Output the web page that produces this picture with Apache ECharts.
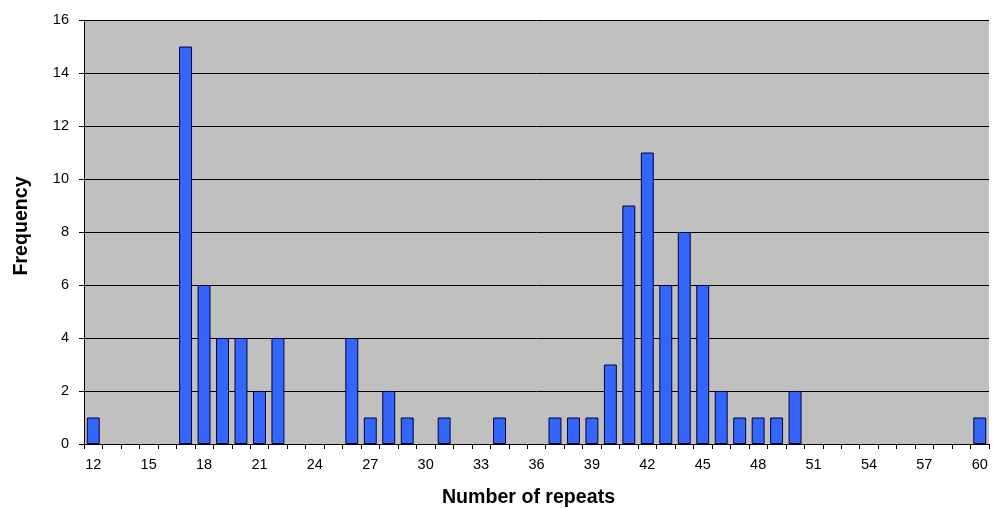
<!DOCTYPE html>
<html>
<head>
<meta charset="utf-8">
<script src="https://cdn.jsdelivr.net/npm/echarts@6/dist/echarts.min.js"></script>
<style>html,body{margin:0;padding:0;background:#fff;}#c{width:993px;height:508px;}</style>
</head>
<body>
<div id="c"></div>
<script>
var categories = ['12','13','14','15','16','17','18','19','20','21','22','23','24','25','26','27','28','29','30','31','32','33','34','35','36','37','38','39','40','41','42','43','44','45','46','47','48','49','50','51','52','53','54','55','56','57','58','59','60'];
var frequency = [1,0,0,0,0,15,6,4,4,2,4,0,0,0,4,1,2,1,0,1,0,0,1,0,0,1,1,1,3,9,11,6,8,6,2,1,1,1,2,0,0,0,0,0,0,0,0,0,1];
var yTicks = {min: 0, max: 16, interval: 2};

var barData = frequency.map(function (v) {
  return v === 0 ? {value: v, itemStyle: {borderWidth: 0, opacity: 0}} : {value: v};
});

var chart = echarts.init(document.getElementById('c'), null, {renderer: 'canvas'});
chart.setOption({
  animation: false,
  backgroundColor: '#ffffff',
  grid: {left: 84, right: 4, top: 20, bottom: 64, show: true, backgroundColor: '#c0c0c0', borderWidth: 0, outerBoundsMode: 'none', containLabel: false},
  xAxis: {
    type: 'category',
    data: categories,
    name: 'Number of repeats',
    nameLocation: 'middle',
    nameGap: 44,
    nameTextStyle: {fontFamily: 'Liberation Sans', fontWeight: 'bold', fontSize: 19.6, color: '#000', padding: [0, 16, 0, 0]},
    axisLine: {lineStyle: {color: '#000', width: 1}},
    axisTick: {show: true, interval: 0, length: 5, lineStyle: {color: '#000'}},
    axisLabel: {interval: 2, fontFamily: 'Liberation Sans', fontSize: 14.5, color: '#000', margin: 13}
  },
  yAxis: {
    type: 'value',
    min: yTicks.min, max: yTicks.max, interval: yTicks.interval,
    name: 'Frequency',
    nameLocation: 'middle',
    nameGap: 52,
    nameTextStyle: {fontFamily: 'Liberation Sans', fontWeight: 'bold', fontSize: 19.6, color: '#000', padding: [0, 0, 0, 12]},
    axisLine: {show: true, lineStyle: {color: '#000', width: 1}},
    axisTick: {show: true, length: 5, lineStyle: {color: '#000'}},
    axisLabel: {fontFamily: 'Liberation Sans', fontSize: 14.5, color: '#000', margin: 15},
    splitLine: {show: true, lineStyle: {color: '#000', width: 1}}
  },
  series: [{
    type: 'bar',
    data: barData,
    barCategoryGap: '30%',
    itemStyle: {color: '#3366ff', borderColor: '#000033', borderWidth: 1}
  }]
});
</script>
</body>
</html>
